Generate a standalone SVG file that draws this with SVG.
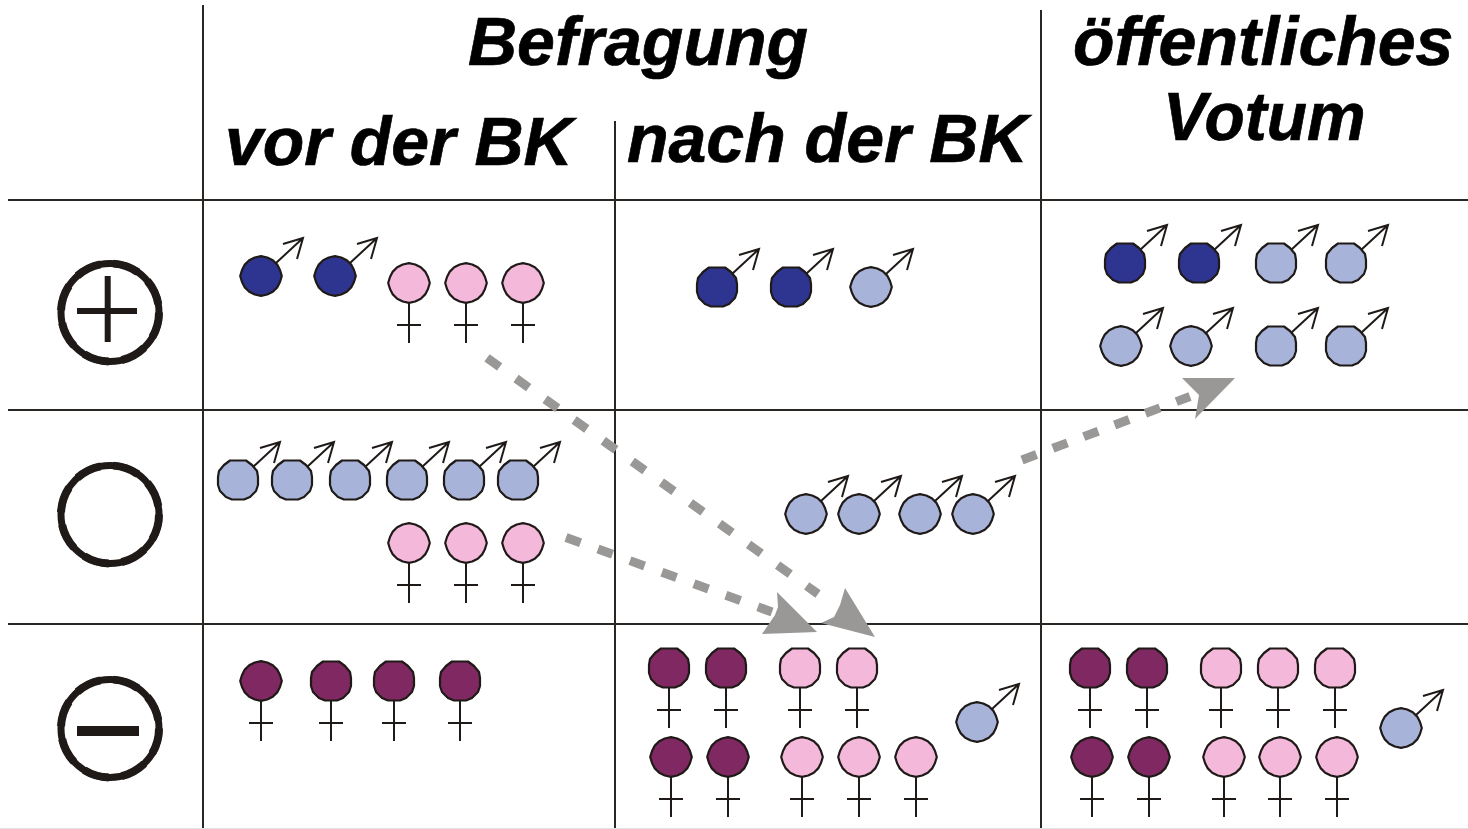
<svg xmlns="http://www.w3.org/2000/svg" width="1468" height="829" viewBox="0 0 1468 829">
<style>
text{font-family:"Liberation Sans",Arial,sans-serif;font-weight:bold;font-style:italic;font-size:68px;fill:#000;stroke:#000;stroke-width:.7}
.grid{stroke:#2a2624;stroke-width:2;fill:none}
.dash{stroke:#999896;stroke-width:9;stroke-dasharray:15.500 18.500;fill:none}
.head{fill:#999896}
.ring{fill:none;stroke:#1f1a17;stroke-width:7}
.ring2{fill:none;stroke:#1f1a17;stroke-width:8;stroke-dasharray:26 13}
.bar{fill:#1f1a17}
.g{fill:none;stroke:#1f1a17;stroke-width:2}
.dk{fill:#2e3591}.lt{fill:#a7b3d8}.pk{fill:#f4b9da}.pl{fill:#7f2861}
</style>
<defs>
<polygon id="o" points="8,-19.500 14,-15 19,-9 20,-3 20,5 18,11 12,17 6,19.500 -6,19.500 -12,17 -18,11 -20,5 -20,-3 -19,-9 -14,-15 -8,-19.500" stroke="#1f1a17" stroke-width="2.200" stroke-linejoin="round"/>
<polygon id="s" points="20.800,0 19,6 16.200,11.400 11.800,15.700 6.200,18.500 0,19.800 -6.200,18.500 -11.800,15.700 -16.200,11.400 -19,6 -20.800,0 -19,-6 -16.200,-11.400 -11.800,-15.700 -6.200,-18.500 0,-19.800 6.200,-18.500 11.800,-15.700 16.200,-11.400 19,-6" stroke="#1f1a17" stroke-width="2.200" stroke-linejoin="round"/>
<path id="m" class="g" d="M15,-13 L42,-38 M22,-32 L42,-38 L36,-17"/>
<path id="f" class="g" d="M0,19 V60 M-12,42 H12"/>
<g id="r"><circle class="ring" r="49"/><circle class="ring2" r="49"/></g>
</defs>
<g id="grid">
<path class="grid" d="M8,200H1468M8,410H1468M8,624H1468M203,5V829M615,121V829M1041,10V829"/>
<path d="M0,828.500H1468" stroke="#e4e4e4" stroke-width="1"/>
</g>
<g id="headers">
<text x="468" y="65">Befragung</text>
<text x="225" y="165">vor der BK</text>
<text x="627" y="162">nach der BK</text>
<text x="1073" y="65">öffentliches</text>
<text x="1163" y="140" textLength="202.500" lengthAdjust="spacingAndGlyphs">Votum</text>
</g>
<g id="plus"><use href="#r" x="110" y="312.500"/><rect class="bar" x="77" y="308" width="60" height="6"/><rect class="bar" x="104.700" y="276" width="6" height="66"/></g>
<g id="neutral"><use href="#r" x="110" y="514.500"/></g>
<g id="minus"><use href="#r" x="110" y="728.500"/><rect class="bar" x="77" y="726" width="62" height="10"/></g>
<g id="connectors">
<path class="dash" style="stroke-dasharray:15.500 20.200" d="M487,357.800L818,594"/>
<path class="dash" d="M566,537.500L772,612"/>
<path class="dash" style="stroke-dasharray:15.500 17.500" d="M1022,460L1190,396.500"/>
<polygon class="head" points="777,592 817,632 762,634 775,615 778,607"/>
<polygon class="head" points="845,588 875,637 821,623 834,617 840,605"/>
<polygon class="head" points="1182,378 1235,378 1195,419 1199,395"/>
</g>
<g id="col1-plus">
<g transform="translate(261,276)"><use href="#s" class="dk"/><use href="#m"/></g>
<g transform="translate(335,276)"><use href="#s" class="dk"/><use href="#m"/></g>
<g transform="translate(409,283)"><use href="#s" class="pk"/><use href="#f"/></g>
<g transform="translate(466,283)"><use href="#s" class="pk"/><use href="#f"/></g>
<g transform="translate(523,283)"><use href="#s" class="pk"/><use href="#f"/></g>
</g>
<g id="col2-plus">
<g transform="translate(717,287)"><use href="#o" class="dk"/><use href="#m"/></g>
<g transform="translate(791,287)"><use href="#o" class="dk"/><use href="#m"/></g>
<g transform="translate(871,287)"><use href="#s" class="lt"/><use href="#m"/></g>
</g>
<g id="col3-plus">
<g transform="translate(1125,263)"><use href="#o" class="dk"/><use href="#m"/></g>
<g transform="translate(1199,263)"><use href="#o" class="dk"/><use href="#m"/></g>
<g transform="translate(1276,263)"><use href="#o" class="lt"/><use href="#m"/></g>
<g transform="translate(1346,263)"><use href="#o" class="lt"/><use href="#m"/></g>
<g transform="translate(1121,346)"><use href="#s" class="lt"/><use href="#m"/></g>
<g transform="translate(1191,346)"><use href="#s" class="lt"/><use href="#m"/></g>
<g transform="translate(1276,346)"><use href="#o" class="lt"/><use href="#m"/></g>
<g transform="translate(1346,346)"><use href="#o" class="lt"/><use href="#m"/></g>
</g>
<g id="col1-neutral">
<g transform="translate(238,480)"><use href="#o" class="lt"/><use href="#m"/></g>
<g transform="translate(292,480)"><use href="#o" class="lt"/><use href="#m"/></g>
<g transform="translate(350,480)"><use href="#o" class="lt"/><use href="#m"/></g>
<g transform="translate(407,480)"><use href="#o" class="lt"/><use href="#m"/></g>
<g transform="translate(464,480)"><use href="#o" class="lt"/><use href="#m"/></g>
<g transform="translate(518,480)"><use href="#o" class="lt"/><use href="#m"/></g>
<g transform="translate(409,543)"><use href="#s" class="pk"/><use href="#f"/></g>
<g transform="translate(466,543)"><use href="#s" class="pk"/><use href="#f"/></g>
<g transform="translate(523,543)"><use href="#s" class="pk"/><use href="#f"/></g>
</g>
<g id="col2-neutral">
<g transform="translate(806,514)"><use href="#s" class="lt"/><use href="#m"/></g>
<g transform="translate(859,514)"><use href="#s" class="lt"/><use href="#m"/></g>
<g transform="translate(920,514)"><use href="#s" class="lt"/><use href="#m"/></g>
<g transform="translate(973,514)"><use href="#s" class="lt"/><use href="#m"/></g>
</g>
<g id="col1-minus">
<g transform="translate(261,681)"><use href="#s" class="pl"/><use href="#f"/></g>
<g transform="translate(331,681)"><use href="#o" class="pl"/><use href="#f"/></g>
<g transform="translate(394,681)"><use href="#o" class="pl"/><use href="#f"/></g>
<g transform="translate(460,681)"><use href="#o" class="pl"/><use href="#f"/></g>
</g>
<g id="col2-minus">
<g transform="translate(669,668)"><use href="#o" class="pl"/><use href="#f"/></g>
<g transform="translate(726,668)"><use href="#o" class="pl"/><use href="#f"/></g>
<g transform="translate(800,668)"><use href="#o" class="pk"/><use href="#f"/></g>
<g transform="translate(857,668)"><use href="#o" class="pk"/><use href="#f"/></g>
<g transform="translate(671,757)"><use href="#s" class="pl"/><use href="#f"/></g>
<g transform="translate(728,757)"><use href="#s" class="pl"/><use href="#f"/></g>
<g transform="translate(802,757)"><use href="#s" class="pk"/><use href="#f"/></g>
<g transform="translate(859,757)"><use href="#s" class="pk"/><use href="#f"/></g>
<g transform="translate(916,757)"><use href="#s" class="pk"/><use href="#f"/></g>
<g transform="translate(977,722)"><use href="#s" class="lt"/><use href="#m"/></g>
</g>
<g id="col3-minus">
<g transform="translate(1090,668)"><use href="#o" class="pl"/><use href="#f"/></g>
<g transform="translate(1147,668)"><use href="#o" class="pl"/><use href="#f"/></g>
<g transform="translate(1221,668)"><use href="#o" class="pk"/><use href="#f"/></g>
<g transform="translate(1278,668)"><use href="#o" class="pk"/><use href="#f"/></g>
<g transform="translate(1335,668)"><use href="#o" class="pk"/><use href="#f"/></g>
<g transform="translate(1092,757)"><use href="#s" class="pl"/><use href="#f"/></g>
<g transform="translate(1149,757)"><use href="#s" class="pl"/><use href="#f"/></g>
<g transform="translate(1224,757)"><use href="#s" class="pk"/><use href="#f"/></g>
<g transform="translate(1280,757)"><use href="#s" class="pk"/><use href="#f"/></g>
<g transform="translate(1337,757)"><use href="#s" class="pk"/><use href="#f"/></g>
<g transform="translate(1401,728)"><use href="#s" class="lt"/><use href="#m"/></g>
</g>
</svg>
